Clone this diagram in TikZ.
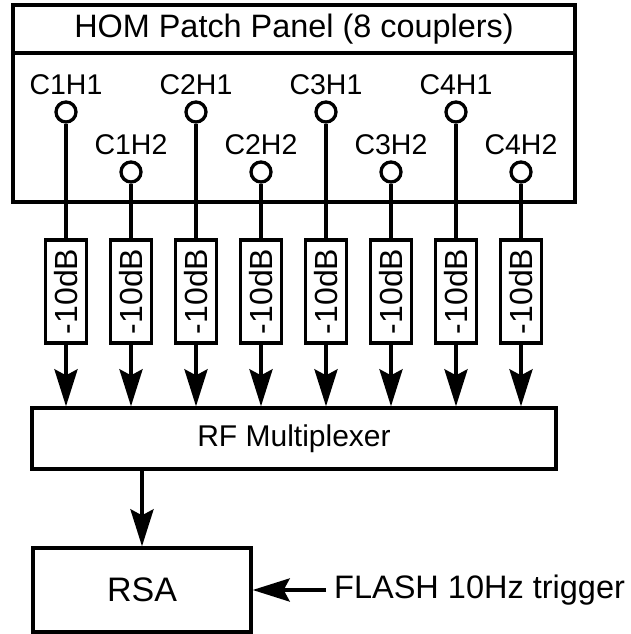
\documentclass[tikz,border=0pt]{standalone}
\usepackage{fontspec}
\setmainfont{Liberation Sans}
\usetikzlibrary{arrows.meta,positioning}

\begin{document}
\begin{tikzpicture}[x=1pt, y=1pt,
    box/.style={rectangle, draw, line width=3.3pt, inner sep=0pt},
    port/.style={circle, draw, line width=3.3pt, minimum size=20pt, inner sep=0pt, fill=white},
    att/.style={box, rotate=90, minimum width=103pt, minimum height=41pt, font=\fontsize{32}{38}\selectfont},
    lbl/.style={inner sep=0pt, font=\fontsize{28.5}{34}\selectfont},
    sig/.style={line width=4pt},
    feed/.style={line width=4pt, -{Stealth[length=37pt, width=23pt, inset=6pt]}}]
  \useasboundingbox (0,0) rectangle (631,634);
  % patch panel
  \node[box, minimum width=562pt, minimum height=48pt, font=\fontsize{32.4}{38}\selectfont] (title) at (294,605) {HOM Patch Panel (8 couplers)};
  \node[box, minimum width=562pt, minimum height=149pt] (panel) at (294,506.5) {};
  % multiplexer and analyser
  \node[box, minimum width=524pt, minimum height=61pt, font=\fontsize{30}{36}\selectfont] (mux) at (294,195.5) {RF Multiplexer};
  \node[box, minimum width=218pt, minimum height=84pt, font=\fontsize{34}{40}\selectfont] (rsa) at (142,44) {RSA};
  \node[anchor=west, inner sep=8pt, font=\fontsize{32.5}{38}\selectfont] (trig) at (326,44) {FLASH 10Hz trigger};
  % couplers
  \foreach \c in {1,...,4} {
    \foreach \h/\dx/\y in {1/0/522, 2/65/462} {
      \node[port] (p\c\h) at ({66+130*(\c-1)+\dx}, \y) {};
      \node[lbl, above=5pt of p\c\h] (l\c\h) {C\c H\h};
      \node[att] (a\c\h) at ({66+130*(\c-1)+\dx}, 342.5) {-10dB};
      \draw[sig] (p\c\h.south) -- (a\c\h.east);
      \draw[feed] (a\c\h.west) -- (a\c\h.west |- mux.north);
    }
  }
  \draw[feed] (rsa.north |- mux.south) -- (rsa.north);
  \draw[feed] (trig.west) -- (rsa.east);
\end{tikzpicture}
\end{document}
